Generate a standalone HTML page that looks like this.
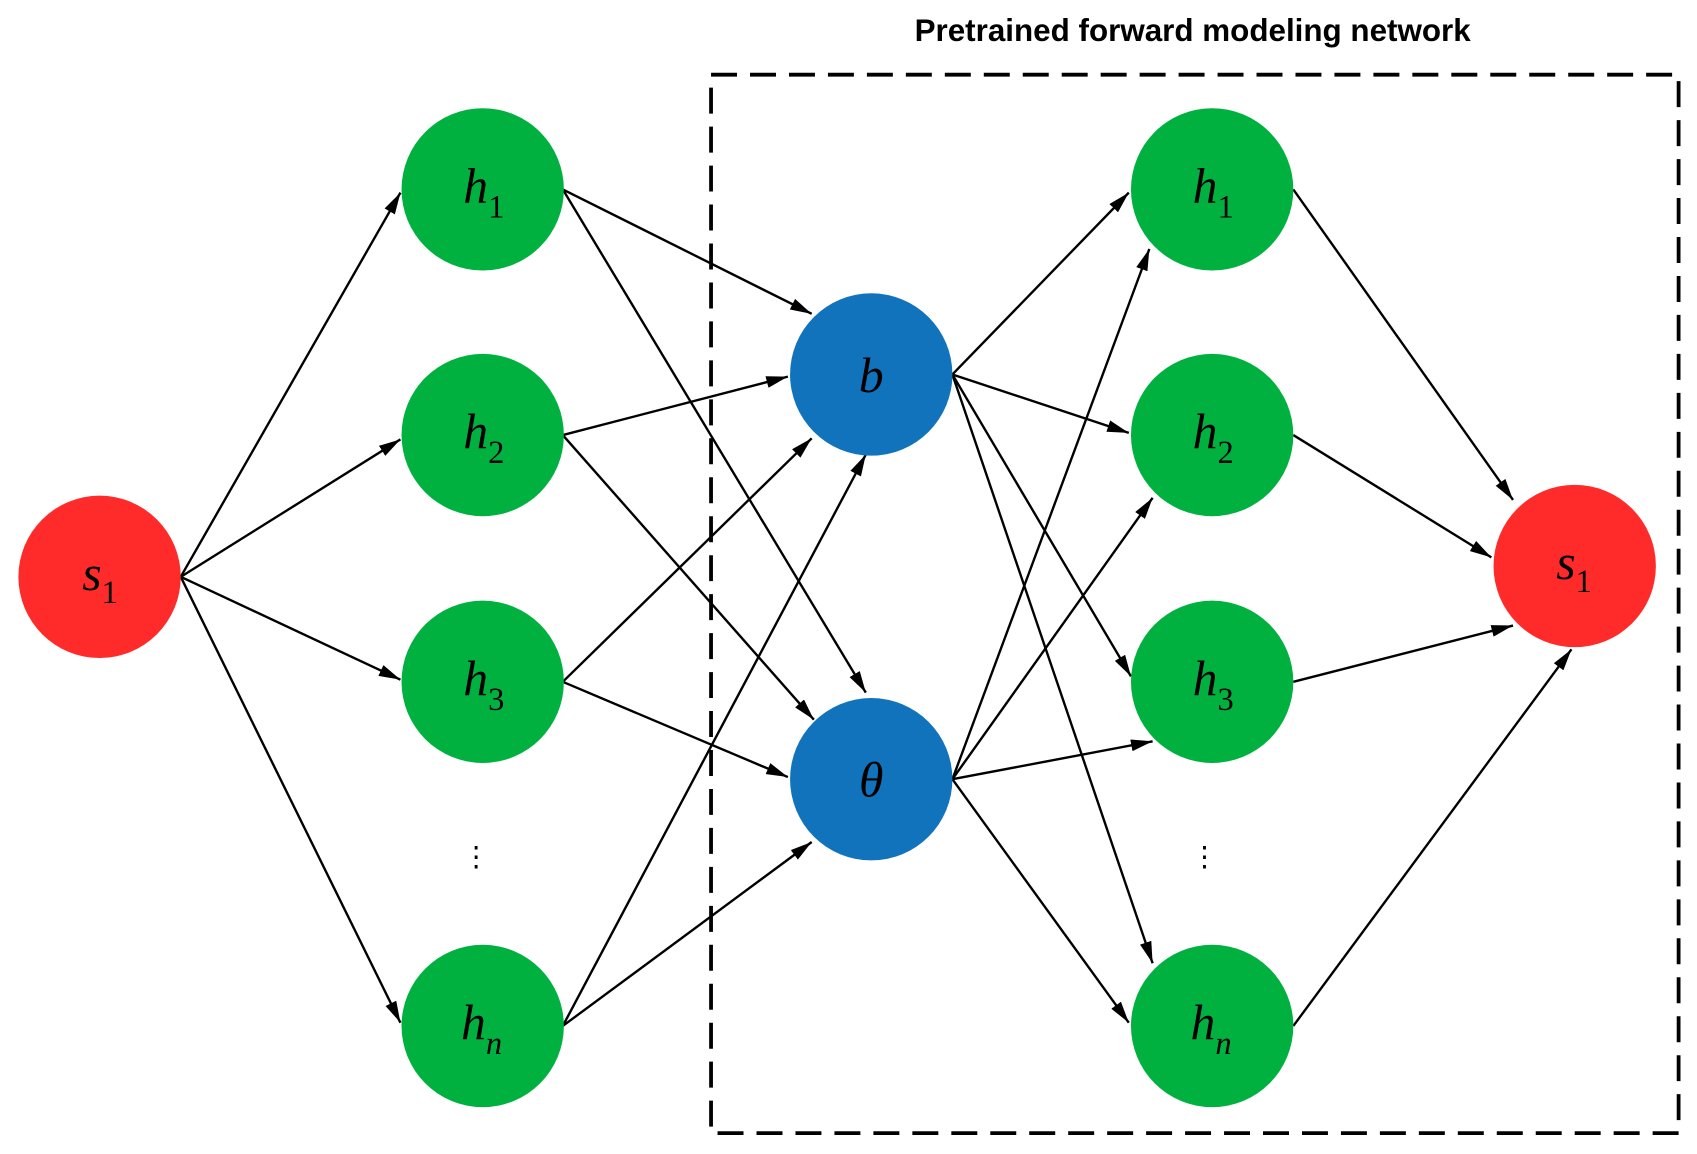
<!DOCTYPE html>
<html><head><meta charset="utf-8"><style>
html,body{margin:0;padding:0;background:#fff;}
svg{display:block}
text{font-family:"Liberation Serif",serif;font-style:italic}
</style></head><body>
<svg id="s" width="1697" height="1154" viewBox="0 0 1568 1066.3" preserveAspectRatio="none" xmlns="http://www.w3.org/2000/svg">
<defs><marker id="a" viewBox="0 0 20 11" refX="20" refY="5.5" markerWidth="20" markerHeight="11" markerUnits="userSpaceOnUse" orient="auto"><path d="M0,0L20,5.5L0,11z" fill="#000"/></marker></defs>
<rect x="657" y="69" width="894" height="978" fill="none" stroke="#000" stroke-width="3.5" stroke-dasharray="24,12"/>
<text x="1102" y="38" text-anchor="middle" style="font-family:'Liberation Sans',sans-serif;font-style:normal;font-weight:bold;font-size:29px">Pretrained forward modeling network</text>
<g id="lines" stroke="#000" stroke-width="2.2" fill="none"></g>
<g id="nodes"></g>
<text x="440" y="800" font-size="26" text-anchor="middle" style="font-style:normal">⋮</text>
<text x="1113" y="800" font-size="26" text-anchor="middle" style="font-style:normal">⋮</text>
<g font-size="46">
<text x="76" y="545">s<tspan font-size="30" dy="12" style="font-style:normal">1</tspan></text>
<text x="1438" y="535">s<tspan font-size="30" dy="12" style="font-style:normal">1</tspan></text>
<text x="428" y="187">h<tspan font-size="30" dy="14" style="font-style:normal">1</tspan></text>
<text x="428" y="414">h<tspan font-size="30" dy="14" style="font-style:normal">2</tspan></text>
<text x="428" y="642">h<tspan font-size="30" dy="14" style="font-style:normal">3</tspan></text>
<text x="426" y="960">h<tspan font-size="30" dy="14">n</tspan></text>
<text x="1102" y="187">h<tspan font-size="30" dy="14" style="font-style:normal">1</tspan></text>
<text x="1102" y="414">h<tspan font-size="30" dy="14" style="font-style:normal">2</tspan></text>
<text x="1102" y="642">h<tspan font-size="30" dy="14" style="font-style:normal">3</tspan></text>
<text x="1100" y="960">h<tspan font-size="30" dy="14">n</tspan></text>
<text x="805" y="362" text-anchor="middle">b</text>
<text x="805" y="736" text-anchor="middle">θ</text>
</g>
</svg>
<script>
var R=75,NS="http://www.w3.org/2000/svg";
var E=[
[167,533,370,178],[167,533,370,406],[167,533,370,628],[167,533,370,945],
[520,175,750,290],[520,175,800,640],
[520,402,728,348],[520,402,752,665],
[520,630,750,405],[520,630,728,718],
[520,948,800,420],[520,948,750,778],
[880,346,1043,178],[880,346,1043,400],[880,346,1045,625],[880,346,1065,890],
[880,720,1062,230],[880,720,1065,460],[880,720,1065,685],[880,720,1043,945],
[1195,175,1398,462],[1195,402,1378,515],[1195,630,1398,578],[1195,948,1452,600]
];
var g=document.getElementById("lines");
E.forEach(function(e){var l=document.createElementNS(NS,"line");
l.setAttribute("x1",e[0]);l.setAttribute("y1",e[1]);l.setAttribute("x2",e[2]);l.setAttribute("y2",e[3]);l.setAttribute("marker-end","url(#a)");g.appendChild(l);});
var N=[[92,533,"#ff2a2a"],[1455,523,"#ff2a2a"],[805,346,"#1273bd"],[805,720,"#1273bd"]];
[175,402,630,948].forEach(function(y){N.push([446,y,"#00b140"]);N.push([1120,y,"#00b140"]);});
var ng=document.getElementById("nodes");
N.forEach(function(n){var c=document.createElementNS(NS,"circle");c.setAttribute("cx",n[0]);c.setAttribute("cy",n[1]);c.setAttribute("r",R);c.setAttribute("fill",n[2]);ng.appendChild(c);});
</script>
</body></html>
